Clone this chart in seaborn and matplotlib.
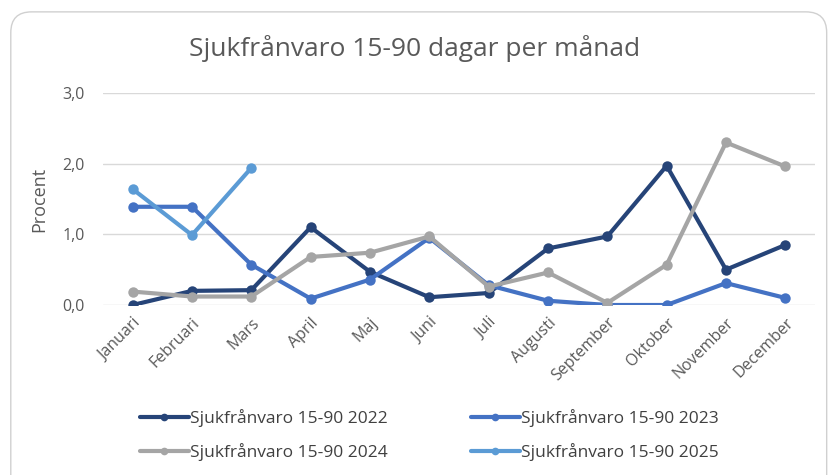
import pandas as pd
import matplotlib
matplotlib.use("Agg")
import matplotlib.pyplot as plt
import seaborn as sns
from matplotlib.patches import FancyBboxPatch

months = ["Januari", "Februari", "Mars", "April", "Maj", "Juni", "Juli",
          "Augusti", "September", "Oktober", "November", "December"]
y2022 = [0.00, 0.20, 0.21, 1.10, 0.47, 0.11, 0.17, 0.80, 0.97, 1.97, 0.50, 0.85]
y2023 = [1.39, 1.39, 0.57, 0.09, 0.36, 0.95, 0.28, 0.06, 0.00, 0.00, 0.31, 0.10]
y2024 = [0.19, 0.12, 0.12, 0.68, 0.74, 0.97, 0.26, 0.46, 0.03, 0.57, 2.30, 1.96]
y2025 = [1.64, 0.99, 1.94]

series = {
    "Sjukfrånvaro 15-90 2022": y2022,
    "Sjukfrånvaro 15-90 2023": y2023,
    "Sjukfrånvaro 15-90 2024": y2024,
    "Sjukfrånvaro 15-90 2025": y2025,
}
colors = ["#264478", "#4472C4", "#A5A5A5", "#5B9BD5"]

rows = []
for name, vals in series.items():
    for i, v in enumerate(vals):
        rows.append({"idx": i, "month": months[i], "serie": name, "value": v})
df = pd.DataFrame(rows)

sns.set_style("white")
plt.rcParams["font.family"] = ["Open Sans", "DejaVu Sans"]
grey = "#595959"

fig = plt.figure(figsize=(8.3, 4.75), dpi=100)
ax = fig.add_axes([103 / 830, 1 - 305 / 475, (815 - 103) / 830, (305 - 93) / 475])

# rundad ram runt diagrammet
frame = FancyBboxPatch((0.013, -0.05), 0.983, 1.025, boxstyle="round,pad=0,rounding_size=0.025",
                       transform=fig.transFigure, facecolor="none", edgecolor="#D0D0D0",
                       linewidth=1.0, zorder=0, mutation_aspect=830 / 475)
fig.patches.append(frame)

sns.lineplot(data=df, x="idx", y="value", hue="serie", palette=colors, marker="o",
             markersize=7.5, markeredgewidth=0, linewidth=3, ax=ax, sort=False)

ax.set_xlim(-0.5, 11.5)
ax.set_ylim(0, 3.0)
ax.set_yticks([0, 1, 2, 3])
ax.set_yticklabels(["0,0", "1,0", "2,0", "3,0"])
ax.set_xticks(range(len(months)))
ax.set_xticklabels(months, rotation=45, ha="right", rotation_mode="anchor")
ax.tick_params(axis="both", colors=grey, labelsize=11.5, length=0)
ax.tick_params(axis="y", pad=13)
ax.tick_params(axis="x", pad=7)
ax.yaxis.grid(True, color="#D9D9D9", linewidth=1)
ax.set_axisbelow(True)
for s in ax.spines.values():
    s.set_visible(False)
ax.set_xlabel("")
ax.set_ylabel("Procent", color=grey, fontsize=13, labelpad=10)

fig.suptitle("Sjukfrånvaro 15-90 dagar per månad", x=0.5, y=1 - 48 / 475, va="center",
             fontsize=19, color=grey)

handles, labels = ax.get_legend_handles_labels()
ax.legend_.remove()
for cols, xpos in (((0, 2), 140), ((1, 3), 471)):
    leg = fig.legend([handles[i] for i in cols], [labels[i] for i in cols],
                     loc="center left", bbox_to_anchor=(xpos / 830, 1 - 435 / 475),
                     frameon=False, fontsize=12.5, labelcolor="#404040",
                     handlelength=2.8, handletextpad=0.1, labelspacing=0.95,
                     borderpad=0, borderaxespad=0)
    for h in leg.legend_handles:
        h.set_markersize(5.5)

fig.savefig("out.png", dpi=100)
